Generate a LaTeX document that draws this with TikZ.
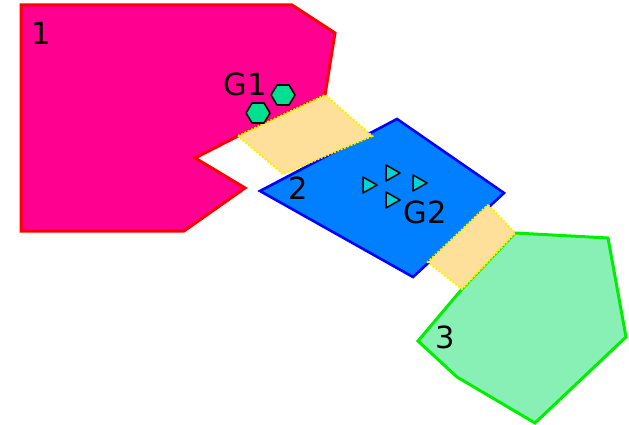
\documentclass[tikz,border=0pt]{standalone}
\usepackage{fontspec}
\setmainfont{DejaVu Sans}
\definecolor{zoneA}{HTML}{FF0090}
\definecolor{zoneAline}{HTML}{FF0000}
\definecolor{zoneB}{HTML}{0080FF}
\definecolor{zoneBline}{HTML}{0000FF}
\definecolor{zoneC}{HTML}{88F0B4}
\definecolor{zoneCline}{HTML}{00EE00}
\definecolor{bridgefill}{HTML}{FFE09A}
\definecolor{bridgeline}{HTML}{FFF000}
\definecolor{hexfill}{HTML}{00E090}
\definecolor{trifill}{HTML}{00D5D5}
\tikzset{
  zone/.style={line join=miter, line width=3pt},
  bridge/.style={fill=bridgefill, draw=bridgeline, line width=2.2pt, dash pattern=on 2pt off 1.6pt},
  hexg/.style={fill=hexfill, draw=black, line width=1.6pt, line join=round},
  trig/.style={fill=trifill, draw=black, line width=1.5pt, line join=round},
  lbl/.style={inner sep=0pt, font=\fontsize{30.5}{30}\selectfont, text=black}
}
\begin{document}
\begin{tikzpicture}[x=1pt,y=-1pt]
\useasboundingbox (0,0) rectangle (629,425);
% zone 1
\filldraw[zone, fill=zoneA, draw=zoneAline]
  (21,5) -- (292,5) -- (335,33) -- (325,95) -- (238,136) -- (195,158)
  -- (245,188) -- (184,231) -- (21,231) -- cycle;
% zone 2
\filldraw[zone, line width=2.6pt, fill=zoneB, draw=zoneBline]
  (260,191) -- (397,119) -- (504,193) -- (413,277) -- cycle;
% zone 3
\filldraw[zone, fill=zoneC, draw=zoneCline]
  (515,233) -- (608,238) -- (626,337) -- (535,423) -- (457,377)
  -- (418,341) -- (462,289) -- cycle;
% bridges
\filldraw[bridge] (238,136) -- (325,95) -- (372,136) -- (283,174) -- cycle;
\filldraw[bridge] (488,205) -- (515,233) -- (462,289) -- (428,262) -- cycle;
% G1 hexagons
\foreach \cx/\cy in {283/95, 258/113}
  \filldraw[hexg] (\cx+12,\cy) -- (\cx+6,\cy-10) -- (\cx-6,\cy-10)
    -- (\cx-12,\cy) -- (\cx-6,\cy+10) -- (\cx+6,\cy+10) -- cycle;
% G2 triangles
\foreach \cx/\cy in {369/185, 392/173, 419/183, 392/200}
  \filldraw[trig] (\cx-6,\cy-8) -- (\cx+8,\cy) -- (\cx-6,\cy+8) -- cycle;
% labels
\node[lbl] (l1) at (41,33) {1};
\node[lbl] (lg1) at (245,84) {G1};
\node[lbl] (l2) at (298,188) {2};
\node[lbl] (lg2) at (425,212) {G2};
\node[lbl] (l3) at (445,337) {3};
\end{tikzpicture}
\end{document}
